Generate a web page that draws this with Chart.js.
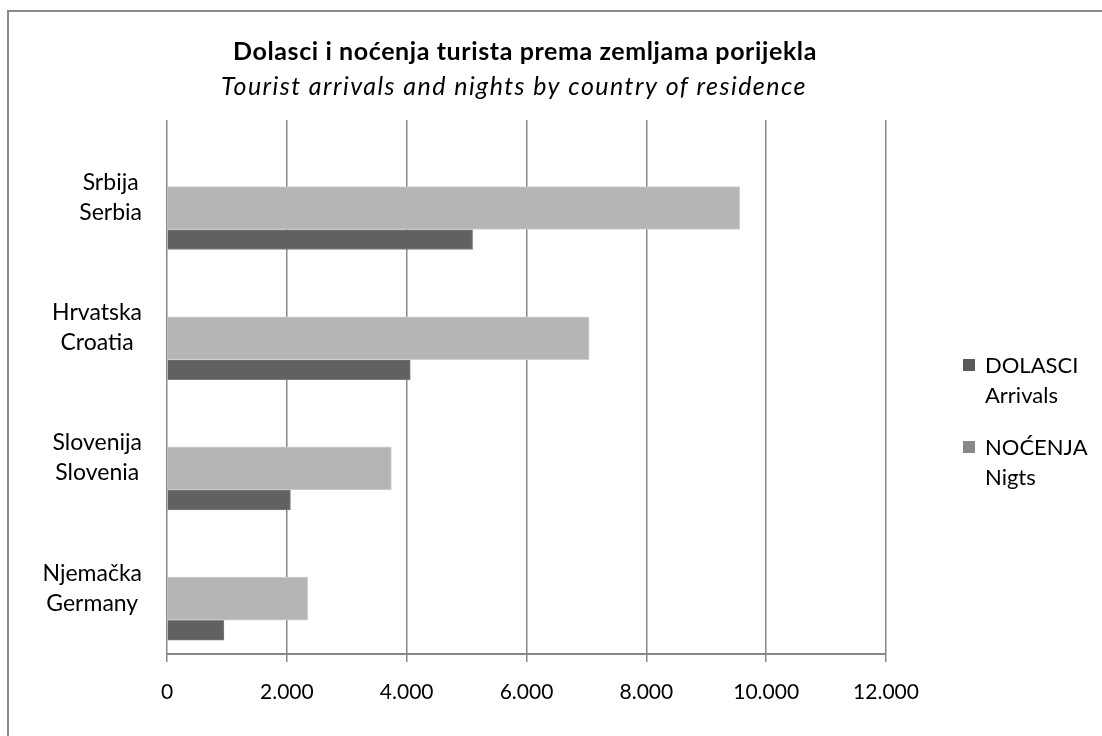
<!DOCTYPE html>
<html>
<head>
<meta charset="utf-8">
<script src="https://cdn.jsdelivr.net/npm/chart.js@4.4.1/dist/chart.umd.min.js"></script>
<style>
    html, body { margin: 0; padding: 0; background: #fff; }
    #wrap { width: 1102px; height: 736px; }
</style>
</head>
<body>
<div id="wrap"><canvas id="chart" width="1102" height="736"></canvas></div>
<script>
const titleText = "Dolasci i noćenja turista prema zemljama porijekla";
const subtitleText = "Tourist arrivals and nights by country of residence";

const categories = [
    ["Srbija", "Serbia"],
    ["Hrvatska", "Croatia"],
    ["Slovenija", "Slovenia"],
    ["Njemačka", "Germany"]
];
const arrivals = [5100, 4060, 2060, 950];
const nights = [9560, 7045, 3745, 2350];

const arrivalsLegend = ["DOLASCI", "Arrivals"];
const nightsLegend = ["NOĆENJA", "Nigts"];

const xMax = 12000;
const xStep = 2000;

const FONT = "Lato, 'Open Sans', sans-serif";
const GRID = "#878787";

// label axis range, bar axis shifted a quarter band down (like Excel's secondary axis)
const yMin = -0.591, yMax = 3.51;
const barShift = 0.25;

function _thousands(v) {
    return String(v).replace(/\B(?=(\d{3})+(?!\d))/g, ".");
}

function _toPoints(values) {
    return values.map((v, i) => ({ x: v, y: i }));
}

function _fixRange(min, max) {
    return scale => {
        scale.min = min;
        scale.max = max;
    };
}

const decorPlugin = {
    id: "decor",
    beforeDraw(chart) {
        const ctx = chart.ctx;
        ctx.save();
        ctx.strokeStyle = "#8a8a8a";
        ctx.lineWidth = 2;
        ctx.beginPath();
        ctx.moveTo(8, 740);
        ctx.lineTo(8, 11);
        ctx.lineTo(1110, 11);
        ctx.stroke();
        ctx.restore();
    },
    afterDraw(chart) {
        const ctx = chart.ctx;
        const yScale = chart.scales.y;
        ctx.save();
        ctx.fillStyle = "#000";

        // title + subtitle
        ctx.textAlign = "center";
        ctx.textBaseline = "alphabetic";
        ctx.font = "bold 25px " + FONT;
        ctx.letterSpacing = "0.6px";
        ctx.fillText(titleText, 525, 60);
        ctx.font = "italic 25px " + FONT;
        ctx.letterSpacing = "1.45px";
        ctx.fillText(subtitleText, 514, 95);
        ctx.letterSpacing = "0px";

        // category labels, each block centred, right edge near x=142
        ctx.font = "23px " + FONT;
        categories.forEach((lines, i) => {
            const c = yScale.getPixelForValue(i);
            const w = Math.max(...lines.map(l => ctx.measureText(l).width));
            const cx = 142 - w / 2;
            lines.forEach((l, j) => {
                ctx.fillText(l, cx, c - 7 + j * 30);
            });
        });

        // legend
        ctx.font = "22px " + FONT;
        const legendTop = [359, 441];
        ctx.textAlign = "left";
        chart.data.datasets.forEach((ds, k) => {
            const top = legendTop[k];
            ctx.fillStyle = ds.legendColor;
            ctx.fillRect(963, top, 12, 12);
            ctx.fillStyle = "#000";
            ds.legendLines.forEach((l, j) => {
                ctx.fillText(l, 985, top + 14 + j * 30);
            });
        });
        ctx.restore();
    }
};

const ctx = document.getElementById("chart");

new Chart(ctx, {
    type: "bar",
    data: {
        datasets: [
            {
                label: arrivalsLegend.join(" "),
                legendLines: arrivalsLegend,
                legendColor: "#5a5a5a",
                data: _toPoints(arrivals),
                backgroundColor: "#616161",
                borderColor: "#7c7c7c",
                borderWidth: 1,
                barThickness: 20,
                order: 1,
                xAxisID: "x",
                yAxisID: "yb"
            },
            {
                label: nightsLegend.join(" "),
                legendLines: nightsLegend,
                legendColor: "#888888",
                data: _toPoints(nights),
                backgroundColor: "#b4b5b4",
                borderColor: "#d2d2d2",
                borderWidth: 1,
                barThickness: 43,
                order: 0,
                xAxisID: "x",
                yAxisID: "yb"
            }
        ]
    },
    options: {
        indexAxis: "y",
        responsive: false,
        animation: false,
        layout: {
            padding: { top: 120, right: 216, left: 0, bottom: 0 }
        },
        plugins: {
            legend: { display: false },
            title: { display: false },
            tooltip: { enabled: false }
        },
        scales: {
            x: {
                type: "linear",
                position: "bottom",
                min: 0,
                max: xMax,
                ticks: {
                    stepSize: xStep,
                    color: "#000",
                    font: { family: FONT, size: 21 },
                    padding: 18,
                    maxRotation: 0,
                    callback: v => _thousands(v)
                },
                grid: {
                    color: GRID,
                    lineWidth: 1.5,
                    drawTicks: true,
                    tickLength: 8
                },
                border: { display: true, color: GRID, width: 2 },
                afterFit: scale => { scale.height = 82; }
            },
            y: {
                type: "linear",
                position: "left",
                reverse: true,
                offset: false,
                bounds: "data",
                min: yMin,
                max: yMax,
                ticks: { display: false },
                grid: { display: false },
                border: { display: false },
                afterBuildTicks: _fixRange(yMin, yMax),
                afterFit: scale => { scale.width = 167; }
            },
            yb: {
                type: "linear",
                position: "left",
                display: false,
                reverse: true,
                offset: false,
                bounds: "data",
                min: yMin - barShift,
                max: yMax - barShift,
                afterBuildTicks: _fixRange(yMin - barShift, yMax - barShift)
            }
        }
    },
    plugins: [decorPlugin]
});
</script>
</body>
</html>
